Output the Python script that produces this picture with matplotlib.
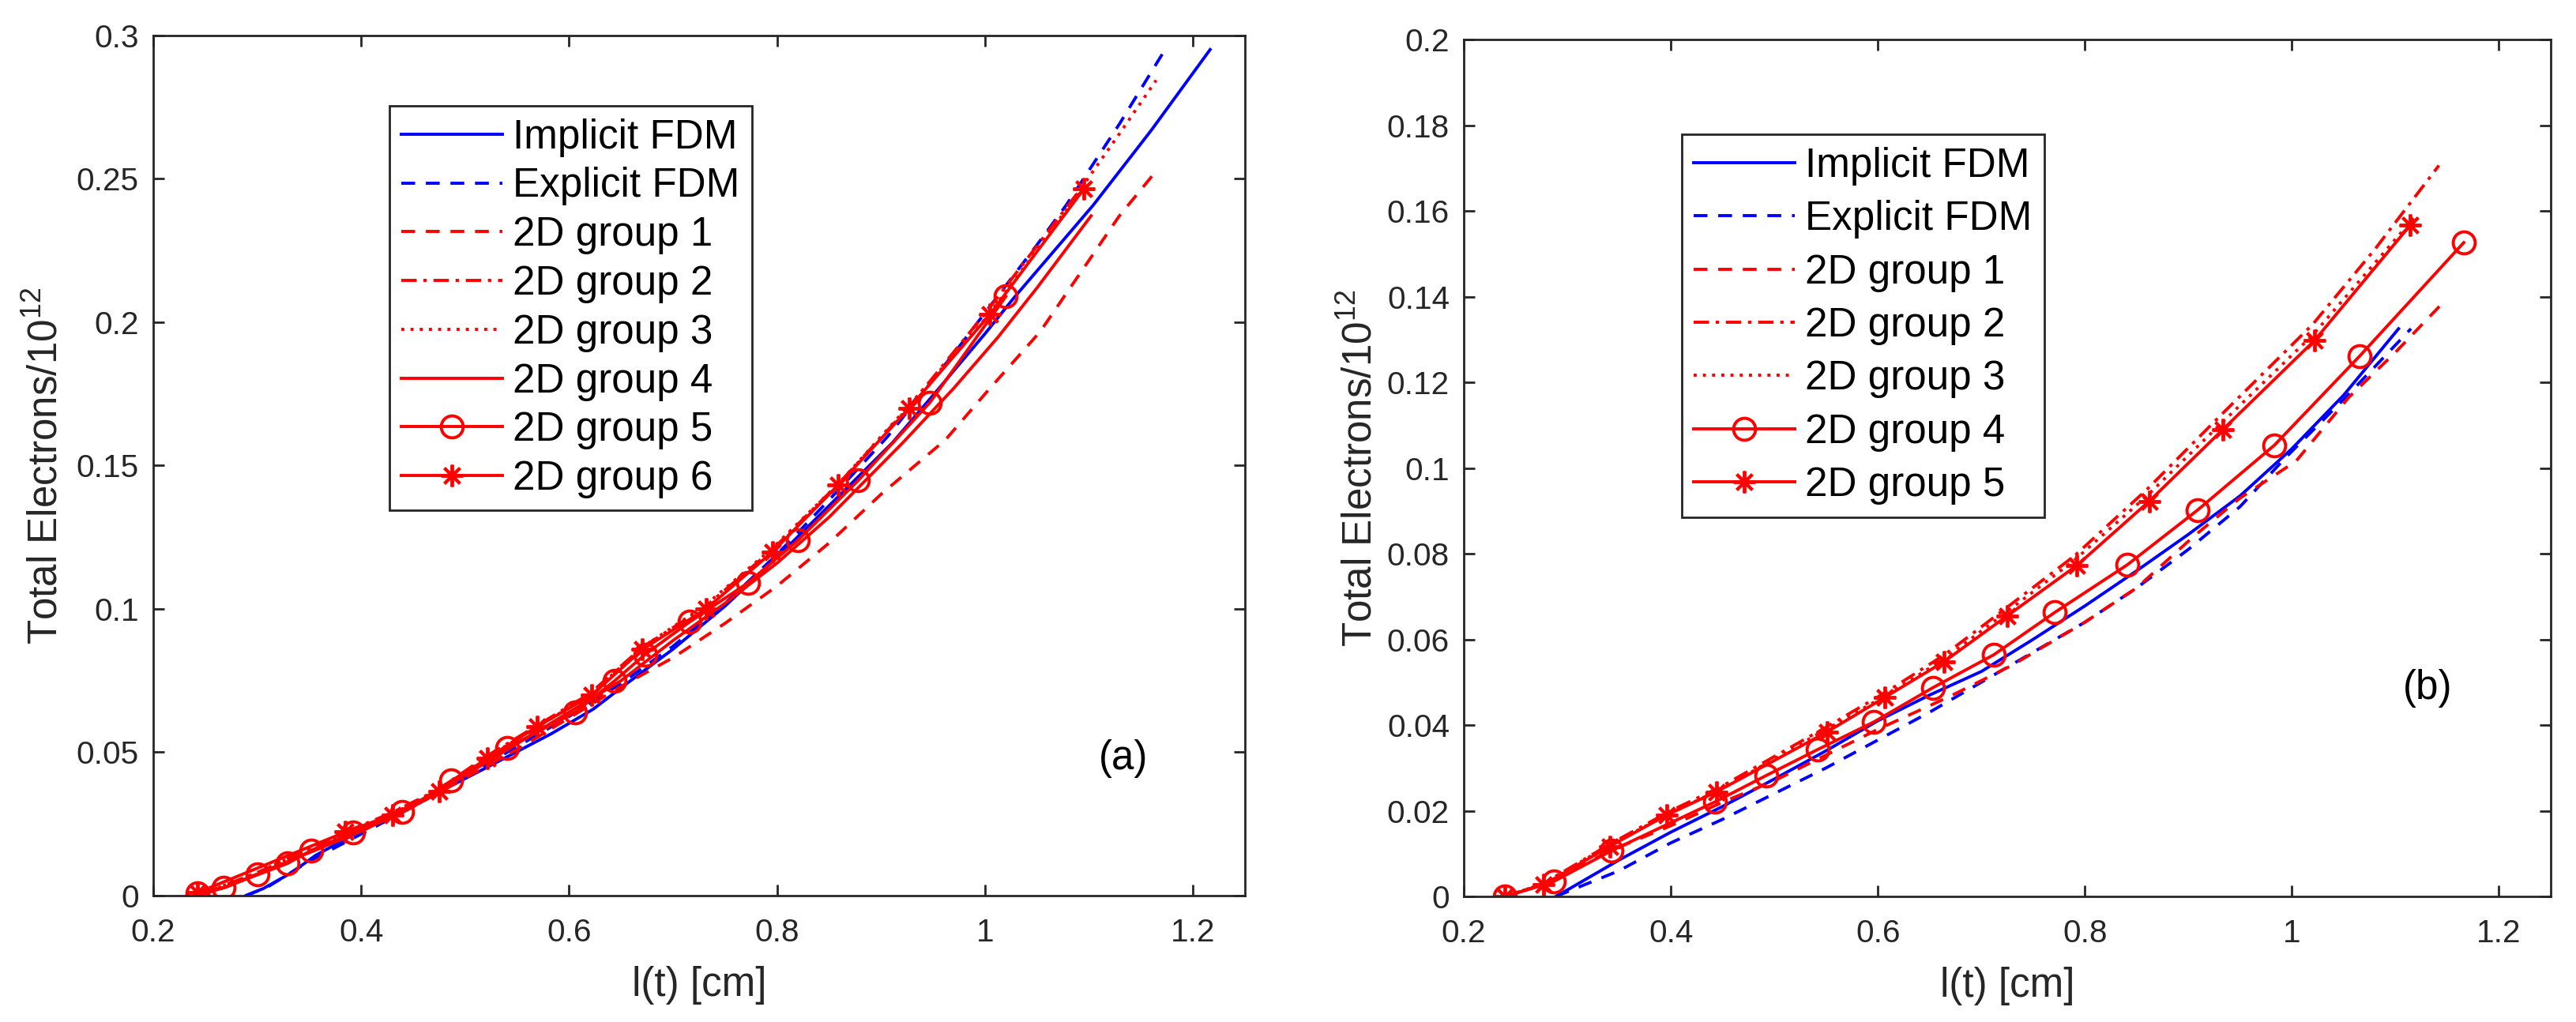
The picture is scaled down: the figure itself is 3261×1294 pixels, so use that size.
import numpy as np
import matplotlib
matplotlib.use('Agg')
import matplotlib.pyplot as plt

plt.rcParams['font.family'] = ['Liberation Sans', 'DejaVu Sans']
plt.rcParams['mathtext.fontset'] = 'custom'
plt.rcParams['mathtext.rm'] = 'Liberation Sans'
plt.rcParams['mathtext.default'] = 'rm'

# ---- panel (a) data ----
a_impl_x = [0.289, 0.306, 0.333, 0.356, 0.397, 0.466, 0.525, 0.583, 0.623, 0.65, 0.70, 0.75, 0.80, 0.85,
            0.911, 0.95, 1.0, 1.028, 1.104, 1.16, 1.2165]
a_impl_y = [0.0, 0.0025, 0.008, 0.014, 0.0222, 0.0345, 0.0455, 0.0565, 0.065, 0.0725, 0.086, 0.101, 0.118,
            0.136, 0.158, 0.1745, 0.196, 0.2086, 0.2408, 0.267, 0.2951]
a_expl_x = [0.289, 0.31, 0.35, 0.40, 0.45, 0.50, 0.55, 0.60, 0.65, 0.70, 0.75, 0.80, 0.85, 0.906, 0.972,
            1.05, 1.078, 1.129, 1.173]
a_expl_y = [0.0, 0.003, 0.012, 0.0215, 0.031, 0.0415, 0.052, 0.0625, 0.074, 0.087, 0.102, 0.119, 0.138,
            0.160, 0.190, 0.227, 0.2408, 0.269, 0.295]
a_g1_x = [0.2424, 0.27, 0.30, 0.35, 0.40, 0.45, 0.50, 0.55, 0.60, 0.65, 0.70, 0.75, 0.80, 0.85, 0.90,
          0.962, 1.0, 1.053, 1.10, 1.129, 1.1625]
a_g1_y = [0.0, 0.003, 0.0075, 0.015, 0.0225, 0.031, 0.041, 0.051, 0.062, 0.073, 0.083, 0.095, 0.108,
          0.123, 0.140, 0.159, 0.175, 0.1967, 0.2216, 0.237, 0.2518]
a_g2_x = [0.2424, 0.30, 0.385, 0.43, 0.475, 0.52, 0.57, 0.62, 0.67, 0.73, 0.795, 0.86, 0.927, 1.0, 1.092]
a_g2_y = [0.0, 0.008, 0.0222, 0.029, 0.0372, 0.0485, 0.0595, 0.0705, 0.0865, 0.1005, 0.1205, 0.144,
          0.1705, 0.203, 0.2465]
a_g3_x = [0.2424, 0.30, 0.385, 0.43, 0.475, 0.52, 0.57, 0.62, 0.67, 0.73, 0.795, 0.86, 0.927, 1.0,
          1.06, 1.129, 1.1646]
a_g3_y = [0.0, 0.008, 0.022, 0.0285, 0.037, 0.048, 0.059, 0.070, 0.0865, 0.101, 0.121, 0.144, 0.171,
          0.201, 0.230, 0.2656, 0.2844]
a_g4_x = [0.2424, 0.27, 0.30, 0.35, 0.40, 0.45, 0.50, 0.55, 0.60, 0.65, 0.70, 0.75, 0.80, 0.85, 0.921,
          0.97, 1.0125, 1.05, 1.102]
a_g4_y = [0.0, 0.003, 0.0075, 0.015, 0.0225, 0.031, 0.042, 0.053, 0.064, 0.075, 0.089, 0.102, 0.116,
          0.132, 0.158, 0.177, 0.1948, 0.212, 0.2371]
a_g5_x = [0.2424, 0.268, 0.3006, 0.329, 0.352, 0.392, 0.4396, 0.4867, 0.5404, 0.6059, 0.644, 0.673,
          0.716, 0.772, 0.820, 0.878, 0.947, 1.020]
a_g5_y = [0.0009, 0.0028, 0.0073, 0.0112, 0.0158, 0.022, 0.0291, 0.0401, 0.0516, 0.064, 0.075, 0.0841,
          0.0955, 0.1091, 0.1239, 0.1448, 0.172, 0.209]
a_g6_x = [0.2424, 0.385, 0.43, 0.475, 0.5216, 0.5695, 0.622, 0.6705, 0.7318, 0.7953, 0.8589, 0.927,
          1.0047, 1.0953]
a_g6_y = [0.001, 0.0222, 0.0282, 0.0365, 0.048, 0.059, 0.070, 0.0859, 0.100, 0.1198, 0.1432, 0.170,
          0.2027, 0.2466]

# ---- panel (b) data ----
b_impl_x = [0.289, 0.30, 0.35, 0.40, 0.45, 0.50, 0.55, 0.60, 0.65, 0.70, 0.75, 0.80, 0.85, 0.90, 0.95,
            1.0, 1.05, 1.103]
b_impl_y = [0.0, 0.0015, 0.0085, 0.015, 0.021, 0.0274, 0.034, 0.041, 0.047, 0.0525, 0.060, 0.0678,
            0.076, 0.0845, 0.0935, 0.1045, 0.117, 0.1325]
b_expl_x = [0.289, 0.35, 0.40, 0.45, 0.50, 0.55, 0.60, 0.65, 0.70, 0.75, 0.80, 0.85, 0.90, 0.95, 0.993,
            1.05, 1.115]
b_expl_y = [0.0, 0.006, 0.0125, 0.018, 0.024, 0.030, 0.0365, 0.043, 0.050, 0.057, 0.064, 0.072, 0.081,
            0.091, 0.1022, 0.116, 0.1325]
b_g1_x = [0.24, 0.28, 0.34, 0.40, 0.45, 0.50, 0.55, 0.60, 0.668, 0.73, 0.80, 0.85, 0.905, 0.95, 1.004,
          1.055, 1.10, 1.146]
b_g1_y = [0.0, 0.003, 0.0105, 0.0165, 0.022, 0.027, 0.033, 0.039, 0.0465, 0.054, 0.064, 0.072, 0.084,
          0.093, 0.1016, 0.1165, 0.127, 0.1386]
b_g2_x = [0.24, 0.277, 0.341, 0.40, 0.45, 0.55, 0.61, 0.665, 0.725, 0.79, 0.86, 0.93, 1.02, 1.08, 1.142]
b_g2_y = [0.0, 0.003, 0.0122, 0.020, 0.0258, 0.0395, 0.048, 0.0565, 0.0675, 0.0795, 0.095, 0.112,
          0.1335, 0.151, 0.1706]
b_g3_x = [0.24, 0.277, 0.341, 0.40, 0.45, 0.55, 0.61, 0.665, 0.725, 0.79, 0.86, 0.93, 1.02, 1.12]
b_g3_y = [0.0, 0.003, 0.012, 0.0195, 0.0252, 0.039, 0.0472, 0.0556, 0.0665, 0.0785, 0.0935, 0.110,
          0.131, 0.159]
b_g4_x = [0.240, 0.287, 0.343, 0.443, 0.492, 0.542, 0.596, 0.653, 0.712, 0.771, 0.841, 0.909, 0.983,
          1.065, 1.166]
b_g4_y = [0.0, 0.0035, 0.0107, 0.0221, 0.0282, 0.0343, 0.0407, 0.0487, 0.0564, 0.0663, 0.0774, 0.0902,
          0.1053, 0.126, 0.1526]
b_g5_x = [0.240, 0.277, 0.341, 0.396, 0.444, 0.551, 0.607, 0.664, 0.725, 0.792, 0.862, 0.933, 1.022,
          1.114]
b_g5_y = [0.0, 0.0027, 0.0117, 0.019, 0.0244, 0.0384, 0.0465, 0.0548, 0.0655, 0.0772, 0.0922, 0.1089,
          0.1298, 0.1566]

xticks = [0.2, 0.4, 0.6, 0.8, 1.0, 1.2]
xticklabels = ['0.2', '0.4', '0.6', '0.8', '1', '1.2']
a_yticks = [0, 0.05, 0.1, 0.15, 0.2, 0.25, 0.3]
a_yticklabels = ['0', '0.05', '0.1', '0.15', '0.2', '0.25', '0.3']
b_yticks = [0, 0.02, 0.04, 0.06, 0.08, 0.1, 0.12, 0.14, 0.16, 0.18, 0.2]
b_yticklabels = ['0', '0.02', '0.04', '0.06', '0.08', '0.1', '0.12', '0.14', '0.16', '0.18', '0.2']

DASH = (0, (4.5, 3.5))
DASHDOT = (0, (5, 2.2, 1.1, 2.2))
DOT = (0, (1, 2))
STAR = (8, 2, 0)
LW = 1.4
MS = 10
AX_COL = '#262626'


def style_axes(ax, yticks, yticklabels, ymax, label_x):
    ax.set_xlim(0.2, 1.25)
    ax.set_ylim(0, ymax)
    ax.set_xticks(xticks)
    ax.set_xticklabels(xticklabels)
    ax.set_yticks(yticks)
    ax.set_yticklabels(yticklabels)
    ax.tick_params(direction='in', length=5, width=1.0, colors=AX_COL, labelsize=14.6,
                   top=True, right=True)
    ax.tick_params(axis='x', pad=10)
    ax.tick_params(axis='y', pad=6.5)
    for s in ax.spines.values():
        s.set_color(AX_COL)
        s.set_linewidth(1.0)
    ax.set_xlabel('l(t) [cm]', fontsize=18.4, color=AX_COL)
    ax.set_ylabel(r'Total Electrons/10$^{12}$', fontsize=18.4, color=AX_COL)
    ax.xaxis.set_label_coords(0.5, -0.082)
    ax.yaxis.set_label_coords(label_x, 0.5)


def add_legend(ax, anchor, spacing):
    leg = ax.legend(loc='upper left', bbox_to_anchor=anchor, borderaxespad=0,
                    fontsize=18.4, handlelength=2.5, handletextpad=0.25, labelspacing=spacing,
                    borderpad=0.3, fancybox=False, framealpha=1, edgecolor=AX_COL)
    leg.get_frame().set_linewidth(1.0)
    return leg


fig = plt.figure(figsize=(16.31, 6.47), dpi=200)
fig.patch.set_facecolor('white')

# panel (a)
ax1 = fig.add_axes([0.05947, 0.12365, 0.42367, 0.84158])
ax1.plot(a_impl_x, a_impl_y, color='b', lw=LW, label='Implicit FDM')
ax1.plot(a_expl_x, a_expl_y, color='b', lw=LW, ls=DASH, label='Explicit FDM')
ax1.plot(a_g1_x, a_g1_y, color='r', lw=LW, ls=DASH, label='2D group 1')
ax1.plot(a_g2_x, a_g2_y, color='r', lw=LW, ls=DASHDOT, label='2D group 2')
ax1.plot(a_g3_x, a_g3_y, color='r', lw=LW, ls=DOT, label='2D group 3')
ax1.plot(a_g4_x, a_g4_y, color='r', lw=LW, label='2D group 4')
ax1.plot(a_g5_x, a_g5_y, color='r', lw=LW, marker='o', ms=MS, mew=1.4, mfc='none',
         label='2D group 5')
ax1.plot(a_g6_x, a_g6_y, color='r', lw=LW, marker=STAR, ms=MS, mew=1.4, label='2D group 6')
style_axes(ax1, a_yticks, a_yticklabels, 0.3, -0.080)
ax1.text(1.133, 0.0477, '(a)', fontsize=18.4, ha='center', va='center')
add_legend(ax1, (0.2164, 0.918), 0.25)

# panel (b)
ax2 = fig.add_axes([0.56806, 0.12287, 0.42183, 0.83849])
ax2.plot(b_impl_x, b_impl_y, color='b', lw=LW, label='Implicit FDM')
ax2.plot(b_expl_x, b_expl_y, color='b', lw=LW, ls=DASH, label='Explicit FDM')
ax2.plot(b_g1_x, b_g1_y, color='r', lw=LW, ls=DASH, label='2D group 1')
ax2.plot(b_g2_x, b_g2_y, color='r', lw=LW, ls=DASHDOT, label='2D group 2')
ax2.plot(b_g3_x, b_g3_y, color='r', lw=LW, ls=DOT, label='2D group 3')
ax2.plot(b_g4_x, b_g4_y, color='r', lw=LW, marker='o', ms=MS, mew=1.4, mfc='none',
         label='2D group 4')
ax2.plot(b_g5_x, b_g5_y, color='r', lw=LW, marker=STAR, ms=MS, mew=1.4, label='2D group 5')
style_axes(ax2, b_yticks, b_yticklabels, 0.2, -0.077)
ax2.text(1.131, 0.0485, '(b)', fontsize=18.4, ha='center', va='center')
add_legend(ax2, (0.2006, 0.889), 0.36)

fig.savefig('out.png', dpi=200, facecolor='white')
